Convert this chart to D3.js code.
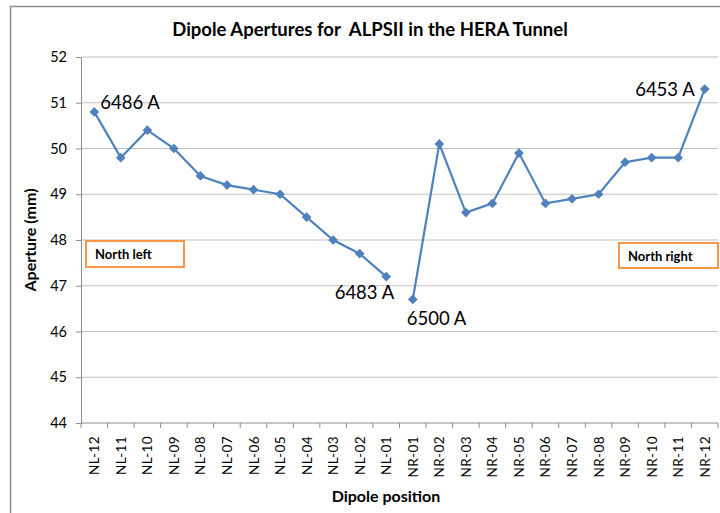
<!DOCTYPE html>
<html>
<head>
<meta charset="utf-8">
<script src="https://cdn.jsdelivr.net/npm/d3@7"></script>
<style>
  body { margin: 0; background: #fff; }
  svg text { font-family: Lato, 'Open Sans', sans-serif; fill: #000; }
</style>
</head>
<body>
<div class="chart"></div>
<script>
const leftCats = ['NL-12', 'NL-11', 'NL-10', 'NL-09', 'NL-08', 'NL-07', 'NL-06', 'NL-05', 'NL-04', 'NL-03', 'NL-02', 'NL-01'];
const rightCats = ['NR-01', 'NR-02', 'NR-03', 'NR-04', 'NR-05', 'NR-06', 'NR-07', 'NR-08', 'NR-09', 'NR-10', 'NR-11', 'NR-12'];
const leftValues = [50.8, 49.8, 50.4, 50.0, 49.4, 49.2, 49.1, 49.0, 48.5, 48.0, 47.7, 47.2];
const rightValues = [46.7, 50.1, 48.6, 48.8, 49.9, 48.8, 48.9, 49.0, 49.7, 49.8, 49.8, 51.3];
const yTicks = [44, 45, 46, 47, 48, 49, 50, 51, 52];
const currents = [
  { cat: 'NL-12', value: 50.8, label: '6486 A' },
  { cat: 'NL-01', value: 47.2, label: '6483 A' },
  { cat: 'NR-01', value: 46.7, label: '6500 A' },
  { cat: 'NR-12', value: 51.3, label: '6453 A' },
];

const W = 720, H = 513;
const plot = { left: 81, right: 718, top: 57, bottom: 423 };
const blue = '#4f81bd';
const orange = '#f79646';

const svg = d3.select('.chart').append('svg').attr('width', W).attr('height', H);

// outer chart frame (cropped on the right and bottom)
svg.append('rect')
  .attr('x', 10.5).attr('y', 6.5)
  .attr('width', 760).attr('height', 560)
  .attr('fill', 'none').attr('stroke', '#8c8c8c').attr('stroke-width', 1.5);

const x = d3.scaleBand().domain(leftCats.concat(rightCats)).range([plot.left, plot.right]);
const y = d3.scaleLinear().domain([44, 52]).range([plot.bottom, plot.top]);
const cx = (c) => x(c) + x.bandwidth() / 2;

// gridlines
svg.append('g')
  .selectAll('line')
  .data(yTicks.slice(1))
  .enter()
  .append('line')
  .attr('x1', plot.left).attr('x2', plot.right)
  .attr('y1', (d) => y(d)).attr('y2', (d) => y(d))
  .attr('stroke', '#c0c0c0').attr('stroke-width', 1.2);

// y axis
const yAxis = svg.append('g')
  .attr('transform', 'translate(' + plot.left + ',0)')
  .call(d3.axisLeft(y).tickValues(yTicks).tickSize(5).tickPadding(9).tickFormat(d3.format('d')));
yAxis.select('.domain').attr('stroke', '#8c8c8c');
yAxis.selectAll('.tick line').attr('stroke', '#8c8c8c');
yAxis.selectAll('text').style('font-size', '14.5px').attr('fill', '#000');

// x axis: ticks between categories
const xg = svg.append('g').attr('transform', 'translate(0,' + plot.bottom + ')');
xg.append('line')
  .attr('x1', plot.left).attr('x2', plot.right)
  .attr('stroke', '#8c8c8c').attr('stroke-width', 1.2);
const edges = x.domain().map((c) => x(c)).concat([plot.right]);
xg.selectAll('.xtick')
  .data(edges)
  .enter()
  .append('line')
  .attr('class', 'xtick')
  .attr('x1', (d) => d).attr('x2', (d) => d)
  .attr('y1', 0).attr('y2', 5)
  .attr('stroke', '#8c8c8c');
xg.selectAll('.xlabel')
  .data(x.domain())
  .enter()
  .append('text')
  .attr('class', 'xlabel')
  .attr('transform', (d) => 'translate(' + (cx(d) + 5) + ',13) rotate(-90)')
  .attr('text-anchor', 'end')
  .style('font-size', '13.5px')
  .style('letter-spacing', '0.4px')
  .text((d) => d);

// lines + markers
const line = d3.line().x((d) => cx(d.cat)).y((d) => y(d.value));
const series = [
  leftCats.map((c, i) => ({ cat: c, value: leftValues[i] })),
  rightCats.map((c, i) => ({ cat: c, value: rightValues[i] })),
];
series.forEach((s) => {
  svg.append('path')
    .datum(s)
    .attr('d', line)
    .attr('fill', 'none')
    .attr('stroke', blue)
    .attr('stroke-width', 2.2);
  svg.append('g')
    .selectAll('path')
    .data(s)
    .enter()
    .append('path')
    .attr('d', d3.symbol().type(d3.symbolDiamond2).size(60))
    .attr('transform', (d) => 'translate(' + cx(d.cat) + ',' + y(d.value) + ')')
    .attr('fill', blue);
});

// current annotations
const labelOffsets = {
  'NL-12': { dx: 6, dy: -3, anchor: 'start' },
  'NL-01': { dx: 8, dy: 22, anchor: 'end' },
  'NR-01': { dx: -6, dy: 26, anchor: 'start' },
  'NR-12': { dx: -10, dy: 7, anchor: 'end' },
};
svg.append('g')
  .selectAll('text')
  .data(currents)
  .enter()
  .append('text')
  .attr('x', (d) => cx(d.cat) + labelOffsets[d.cat].dx)
  .attr('y', (d) => y(d.value) + labelOffsets[d.cat].dy)
  .attr('text-anchor', (d) => labelOffsets[d.cat].anchor)
  .style('font-size', '18.5px')
  .text((d) => d.label);

// North left / North right boxes
[
  { text: 'North left', x: 86, y: 241, w: 98, h: 26 },
  { text: 'North right', x: 619, y: 243, w: 99, h: 25 },
].forEach((b) => {
  svg.append('rect')
    .attr('x', b.x).attr('y', b.y).attr('width', b.w).attr('height', b.h)
    .attr('fill', '#fff').attr('stroke', orange).attr('stroke-width', 2);
  svg.append('text')
    .attr('x', b.x + 9).attr('y', b.y + 17.5)
    .style('font-size', '13px').style('font-weight', 'bold')
    .text(b.text);
});

// titles
svg.append('text')
  .attr('x', 370).attr('y', 36)
  .attr('text-anchor', 'middle')
  .style('font-size', '18.5px').style('font-weight', 'bold')
  .attr('xml:space', 'preserve')
  .text('Dipole Apertures for  ALPSII in the HERA Tunnel');

svg.append('text')
  .attr('transform', 'translate(36,' + ((plot.top + plot.bottom) / 2) + ') rotate(-90)')
  .attr('text-anchor', 'middle')
  .style('font-size', '16px').style('font-weight', 'bold')
  .text('Aperture (mm)');

svg.append('text')
  .attr('x', 386).attr('y', 502)
  .attr('text-anchor', 'middle')
  .style('font-size', '16px').style('font-weight', 'bold')
  .text('Dipole position');
</script>
</body>
</html>
